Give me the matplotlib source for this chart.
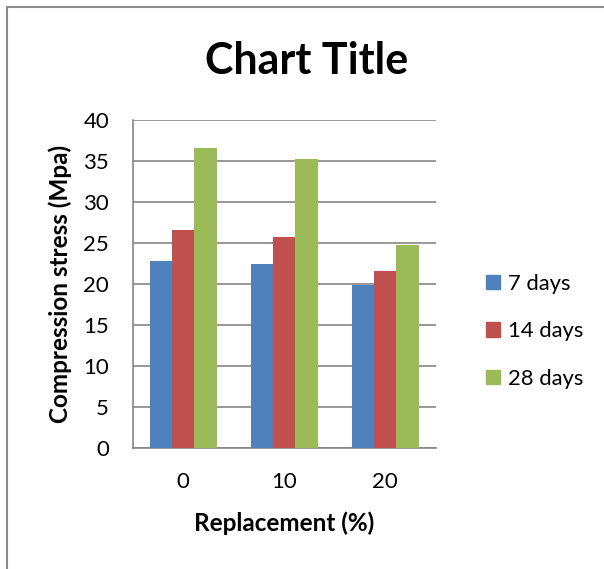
import numpy as np
import matplotlib.pyplot as plt
from matplotlib.lines import Line2D
from matplotlib.patches import Patch

plt.rcParams['font.family'] = ['Lato', 'DejaVu Sans']

categories = ['0', '10', '20']
series_names = ['7 days', '14 days', '28 days']
days_7 = [22.8, 22.5, 19.9]
days_14 = [26.6, 25.7, 21.6]
days_28 = [36.6, 35.3, 24.7]
colors = ['#4F81BD', '#C0504D', '#9BBB59']

fig = plt.figure(figsize=(6.04, 5.69), dpi=100)
ax = fig.add_axes([0.2197, 0.2127, 0.5017, 0.5763])

x = np.arange(len(categories))
width = 0.222
for i, (vals, name) in enumerate(zip([days_7, days_14, days_28], series_names)):
    ax.bar(x + (i - 1) * width, vals, width, color=colors[i], label=name, zorder=3)

ax.set_xlim(-0.5, 2.5)
ax.set_ylim(0, 40)
ax.set_yticks(range(0, 41, 5))
ax.set_xticks(x)
ax.set_xticklabels(categories)
ax.tick_params(axis='both', length=0, labelsize=16, colors='black')
ax.tick_params(axis='y', pad=17)
ax.tick_params(axis='x', pad=17)

ax.grid(axis='y', color='#868686', linewidth=1.2, zorder=0)
for side in ['top', 'right']:
    ax.spines[side].set_visible(False)
for side in ['left', 'bottom']:
    ax.spines[side].set_color('#868686')
    ax.spines[side].set_linewidth(1.2)

ax.set_ylabel('Compression stress (Mpa)', fontsize=17.5, fontweight='bold', labelpad=8)
ax.set_xlabel('Replacement (%)', fontsize=17.5, fontweight='bold', labelpad=14)
fig.text(0.508, 0.893, 'Chart Title', fontsize=31, fontweight='bold',
         ha='center', va='center')

handles = [Patch(color=c) for c in colors]
fig.legend(handles, series_names, loc='center left', bbox_to_anchor=(0.772, 0.418),
           frameon=False, fontsize=15.8, handlelength=0.65, handleheight=0.65,
           handletextpad=0.35, labelspacing=1.25)

# chart frame edges
fig.add_artist(Line2D([0.0116, 0.0116], [0.0, 0.9877], color='#8c8c8c', linewidth=1.5,
                      transform=fig.transFigure))
fig.add_artist(Line2D([0.0116, 1.0], [0.9877, 0.9877], color='#8c8c8c', linewidth=1.5,
                      transform=fig.transFigure))

fig.savefig('out.png', dpi=100, facecolor='white')
